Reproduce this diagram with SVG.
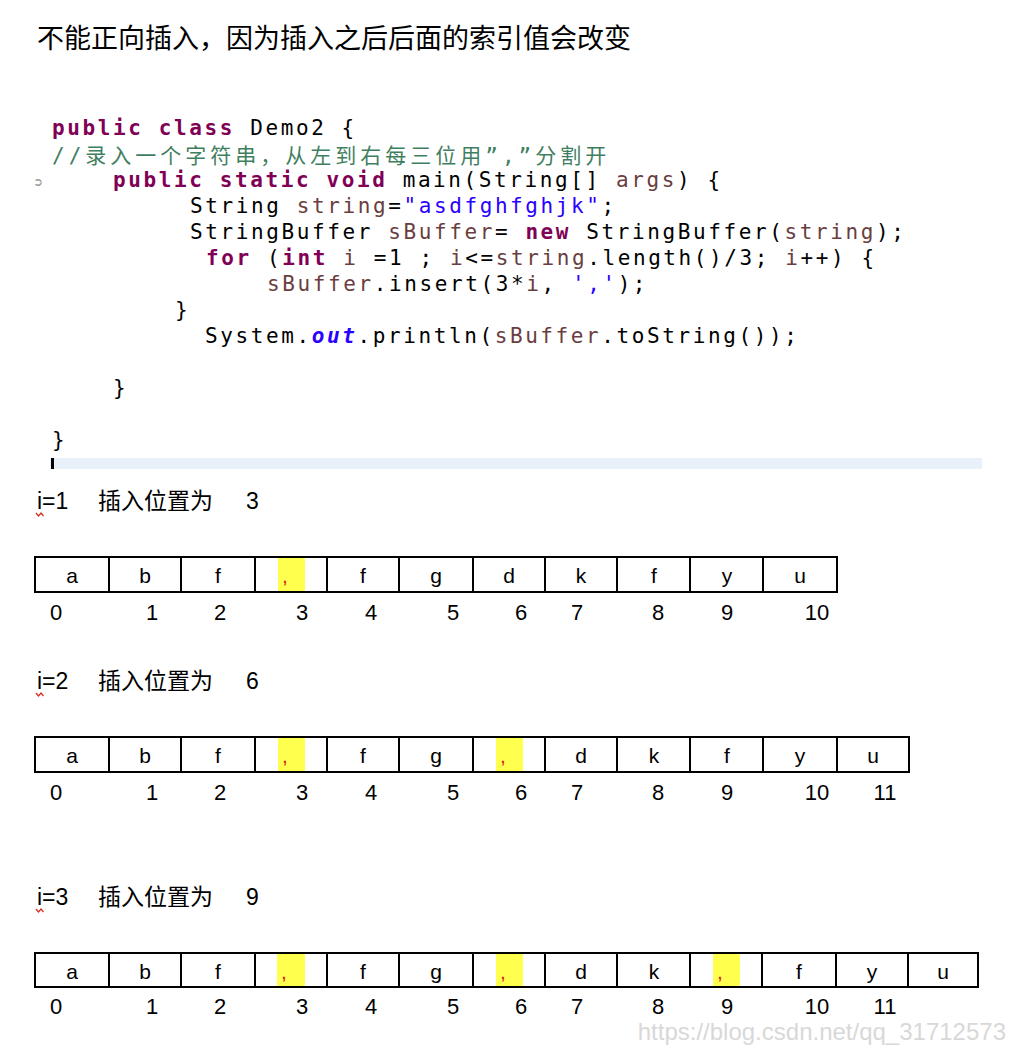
<svg xmlns="http://www.w3.org/2000/svg" width="1016" height="1054" viewBox="0 0 1016 1054">
<style>
.t{font-family:"Liberation Sans","Noto Sans CJK SC",sans-serif;fill:#000}
.c{font-family:"DejaVu Sans Mono","Noto Sans CJK SC",monospace;font-size:21px;letter-spacing:2.6px;fill:#000}
.k{fill:#7f0055;font-weight:bold}
.v{fill:#6a3e3e}
.s{fill:#2a00ff}
.cm{fill:#3f7f5f}
.cell{fill:#fff;stroke:#000;stroke-width:2}
.hl{fill:#ffff4d}
.ch{font-family:"Liberation Sans",sans-serif;font-size:21px;text-anchor:middle}
.cm2{fill:#e0201a;font-family:"Liberation Sans",sans-serif;font-size:21px}
.ix{font-family:"Liberation Sans",sans-serif;font-size:22px;text-anchor:middle}
.h{font-family:"Liberation Sans","Noto Sans CJK SC",sans-serif;font-size:23px}
.sq{fill:none;stroke:#d03020;stroke-width:1.3}
</style>
<rect width="1016" height="1054" fill="#fff"/>
<text class="t" x="37" y="48" font-size="27">不能正向插入，因为插入之后后面的索引值会改变</text>
<g id="code">
<text class="c" x="52" y="135"><tspan class="k">public class</tspan> Demo2 {</text>
<text class="c cm" x="52" y="163" style="font-size:21px;letter-spacing:4px">//录入一个字符串，从左到右每三位用”,”分割开</text>
<text x="33" y="186" font-family="DejaVu Sans" font-size="12" fill="#999">➲</text>
<text class="c" x="113" y="187"><tspan class="k">public static void</tspan> main(String[] <tspan class="v">args</tspan>) {</text>
<text class="c" x="190" y="213">String <tspan class="v">string</tspan>=<tspan class="s">"asdfghfghjk"</tspan>;</text>
<text class="c" x="190" y="239">StringBuffer <tspan class="v">sBuffer</tspan>= <tspan class="k">new</tspan> StringBuffer(<tspan class="v">string</tspan>);</text>
<text class="c" x="206" y="265"><tspan class="k">for</tspan> (<tspan class="k">int</tspan> <tspan class="v">i</tspan> =1 ; <tspan class="v">i</tspan>&lt;=<tspan class="v">string</tspan>.length()/3; <tspan class="v">i</tspan>++) {</text>
<text class="c" x="267" y="291"><tspan class="v">sBuffer</tspan>.insert(3*<tspan class="v">i</tspan>, <tspan class="s">','</tspan>);</text>
<text class="c" x="175" y="317">}</text>
<text class="c" x="205" y="343">System.<tspan class="s" font-weight="bold" font-style="italic">out</tspan>.println(<tspan class="v">sBuffer</tspan>.toString());</text>
<text class="c" x="113" y="395">}</text>
<text class="c" x="52" y="447">}</text>
<rect x="50" y="458" width="932" height="11" fill="#e8f0fa"/>
<rect x="51" y="458" width="3" height="11" fill="#000"/>
</g>
<g id="row1">
<text class="h" x="37" y="509">i=1</text><text class="h" x="98" y="509">插入位置为 <tspan x="246">3</tspan></text>
<path class="sq" d="M36 513 l2.5 3 l2.5 -3 l2.5 3"/>
<rect class="cell" x="35" y="557" width="802" height="35"/>
<rect class="hl" x="278" y="558" width="27" height="33"/>
<path d="M109 557V592M181 557V592M255 557V592M327 557V592M399 557V592M473 557V592M545 557V592M617 557V592M690 557V592M763 557V592" stroke="#000" stroke-width="2"/>
<g class="ch"><text x="72" y="583">a</text><text x="145" y="583">b</text><text x="218" y="583">f</text><text x="363" y="583">f</text><text x="436" y="583">g</text><text x="509" y="583">d</text><text x="581" y="583">k</text><text x="654" y="583">f</text><text x="727" y="583">y</text><text x="800" y="583">u</text></g>
<text class="cm2" x="282" y="583">,</text>
<g class="ix"><text x="56" y="620">0</text><text x="152" y="620">1</text><text x="220" y="620">2</text><text x="302" y="620">3</text><text x="371" y="620">4</text><text x="453" y="620">5</text><text x="521" y="620">6</text><text x="577" y="620">7</text><text x="658" y="620">8</text><text x="727" y="620">9</text><text x="817" y="620">10</text></g>
</g>
<g id="row2">
<text class="h" x="37" y="689">i=2</text><text class="h" x="98" y="689">插入位置为 <tspan x="246">6</tspan></text>
<path class="sq" d="M36 693 l2.5 3 l2.5 -3 l2.5 3"/>
<rect class="cell" x="35" y="737" width="874" height="35"/>
<rect class="hl" x="278" y="738" width="27" height="33"/>
<rect class="hl" x="496" y="738" width="27" height="33"/>
<path d="M109 737V772M181 737V772M255 737V772M327 737V772M399 737V772M473 737V772M545 737V772M617 737V772M690 737V772M763 737V772M837 737V772" stroke="#000" stroke-width="2"/>
<g class="ch"><text x="72" y="763">a</text><text x="145" y="763">b</text><text x="218" y="763">f</text><text x="363" y="763">f</text><text x="436" y="763">g</text><text x="581" y="763">d</text><text x="654" y="763">k</text><text x="727" y="763">f</text><text x="800" y="763">y</text><text x="873" y="763">u</text></g>
<text class="cm2" x="282" y="763">,</text><text class="cm2" x="500" y="763">,</text>
<g class="ix"><text x="56" y="800">0</text><text x="152" y="800">1</text><text x="220" y="800">2</text><text x="302" y="800">3</text><text x="371" y="800">4</text><text x="453" y="800">5</text><text x="521" y="800">6</text><text x="577" y="800">7</text><text x="658" y="800">8</text><text x="727" y="800">9</text><text x="817" y="800">10</text><text x="885" y="800">11</text></g>
</g>
<g id="row3">
<text class="h" x="37" y="905">i=3</text><text class="h" x="98" y="905">插入位置为 <tspan x="246">9</tspan></text>
<path class="sq" d="M36 909 l2.5 3 l2.5 -3 l2.5 3"/>
<rect class="cell" x="35" y="953" width="943" height="34"/>
<rect class="hl" x="277" y="954" width="28" height="32"/>
<rect class="hl" x="496" y="954" width="27" height="32"/>
<rect class="hl" x="713" y="954" width="27" height="32"/>
<path d="M109 953V987M181 953V987M255 953V987M327 953V987M399 953V987M473 953V987M545 953V987M617 953V987M690 953V987M762 953V987M836 953V987M908 953V987" stroke="#000" stroke-width="2"/>
<g class="ch"><text x="72" y="979">a</text><text x="145" y="979">b</text><text x="218" y="979">f</text><text x="363" y="979">f</text><text x="436" y="979">g</text><text x="581" y="979">d</text><text x="654" y="979">k</text><text x="799" y="979">f</text><text x="872" y="979">y</text><text x="943" y="979">u</text></g>
<text class="cm2" x="281" y="979">,</text><text class="cm2" x="500" y="979">,</text><text class="cm2" x="717" y="979">,</text>
<g class="ix"><text x="56" y="1014">0</text><text x="152" y="1014">1</text><text x="220" y="1014">2</text><text x="302" y="1014">3</text><text x="371" y="1014">4</text><text x="453" y="1014">5</text><text x="521" y="1014">6</text><text x="577" y="1014">7</text><text x="658" y="1014">8</text><text x="727" y="1014">9</text><text x="817" y="1014">10</text><text x="885" y="1014">11</text></g>
</g>
<text x="1006" y="1040" text-anchor="end" font-family="Liberation Sans,sans-serif" font-size="24" fill="#d8d8d8">https://blog.csdn.net/qq_31712573</text>
</svg>
